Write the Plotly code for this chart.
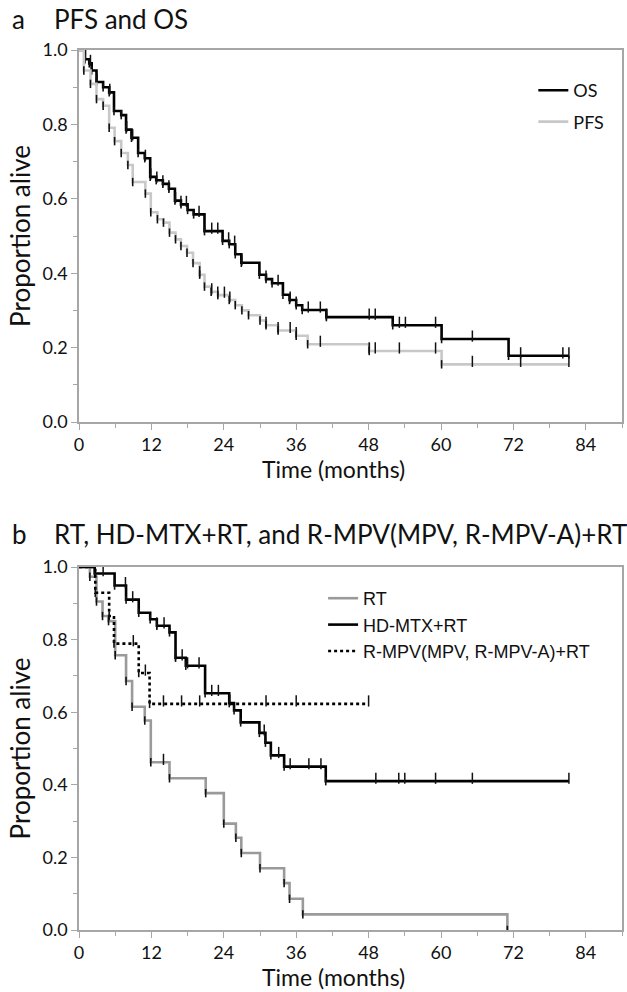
import numpy as np
import plotly.graph_objects as go

# ---------------- data ----------------
# Panel a : overall survival (OS) and progression-free survival (PFS)
os_t = [1.0, 1.7, 2.1, 2.9, 4.0, 5.0, 5.8, 7.0, 7.8, 8.7, 9.8, 10.9, 11.8, 12.8, 13.9,
        14.9, 15.9, 16.9, 18.0, 19.0, 20.8, 23.8, 24.9, 25.9, 26.9, 29.9, 31.0, 32.0,
        33.8, 34.9, 36.0, 37.0, 41.0, 52.0, 60.1, 71.2]
os_s = [0.975, 0.964, 0.945, 0.914, 0.900, 0.886, 0.836, 0.825, 0.786, 0.764, 0.723, 0.709,
        0.659, 0.650, 0.640, 0.627, 0.595, 0.585, 0.570, 0.558, 0.513, 0.487, 0.478, 0.451,
        0.428, 0.396, 0.384, 0.373, 0.342, 0.328, 0.314, 0.301, 0.282, 0.260, 0.223, 0.178]
os_end = 81.2
os_cens = [1.9, 3.0, 5.1, 7.9, 8.9, 11.0, 11.9, 12.9, 13.9, 14.9, 16.0, 16.9, 17.8, 19.9,
           22.0, 23.0, 24.8, 25.8, 27.0, 31.0, 33.0, 35.0, 36.0, 38.0, 40.0, 41.0, 48.1,
           49.1, 53.1, 54.1, 59.1, 65.2, 73.2, 80.2, 81.2]

pfs_t = [0.8, 1.9, 2.9, 4.0, 5.0, 5.9, 7.0, 8.1, 8.9, 11.0, 11.9, 13.0, 14.0, 15.0, 16.0,
         16.9, 17.9, 18.9, 20.0, 20.8, 21.9, 23.0, 24.9, 25.9, 27.0, 28.1, 30.0, 31.0,
         33.0, 36.0, 37.9, 48.1, 60.1]
pfs_s = [0.945, 0.909, 0.868, 0.850, 0.791, 0.755, 0.723, 0.691, 0.645, 0.614, 0.564, 0.545,
         0.536, 0.509, 0.491, 0.473, 0.455, 0.427, 0.396, 0.364, 0.350, 0.341, 0.328, 0.314,
         0.300, 0.287, 0.273, 0.260, 0.246, 0.232, 0.209, 0.191, 0.155]
pfs_end = 81.2
pfs_cens = [20.0, 22.0, 23.0, 24.1, 25.0, 31.0, 33.0, 35.0, 36.0, 40.0, 48.1, 49.1, 53.1,
            59.1, 65.2, 73.2, 81.2]

# Panel b : treatment groups
rt_t = [1.8, 2.9, 3.9, 4.9, 6.0, 7.8, 8.8, 10.9, 11.9, 15.0, 21.0, 24.0, 26.0, 26.9, 30.0,
        34.0, 34.9, 37.1, 71.0]
rt_s = [0.973, 0.905, 0.865, 0.851, 0.757, 0.686, 0.615, 0.577, 0.462, 0.418, 0.377, 0.293,
        0.254, 0.212, 0.170, 0.129, 0.086, 0.043, 0.0]
rt_end = 71.0
rt_cens = [14.0]

hd_t = [2.6, 5.9, 7.8, 9.9, 11.8, 12.9, 15.0, 16.0, 17.7, 20.9, 24.9, 25.7, 26.8, 29.9,
        30.9, 31.8, 34.0, 40.9]
hd_s = [0.982, 0.949, 0.910, 0.874, 0.856, 0.838, 0.820, 0.750, 0.728, 0.652, 0.625, 0.605,
        0.572, 0.543, 0.516, 0.481, 0.450, 0.410]
hd_end = 81.2
hd_cens = [4.0, 7.7, 8.9, 12.9, 14.1, 16.0, 17.1, 18.0, 19.9, 22.0, 23.1, 25.0, 30.7, 33.1,
           35.0, 38.1, 40.1, 49.2, 53.0, 54.0, 59.1, 65.2, 81.2]

rmpv_t = [2.7, 5.0, 5.8, 9.9, 11.7]
rmpv_s = [0.929, 0.865, 0.789, 0.708, 0.623]
rmpv_end = 48.0
rmpv_cens = [9.0, 11.0, 14.0, 17.0, 20.0, 31.0, 36.0, 48.0]

x_ticks = [0, 12, 24, 36, 48, 60, 72, 84]
y_ticks = [0.0, 0.2, 0.4, 0.6, 0.8, 1.0]

panel_a_title = ("a", "PFS and OS")
panel_b_title = ("b", "RT, HD-MTX+RT, and R-MPV(MPV, R-MPV-A)+RT")
x_title = "Time (months)"
y_title = "Proportion alive"

# ---------------- layout helpers ----------------
W, H = 627, 992
ML, MR = 79, 3
A_TOP, A_BOT = 50, 422
B_TOP, B_BOT = 567, 930
MT, MB = A_TOP, H - B_BOT


def pxx(px):
    return (px - ML) / (W - ML - MR)


def pxy(py):
    return (H - MB - py) / (H - MT - MB)


def step_xy(times, surv, end):
    x = [0.0] + list(times) + [end]
    y = [1.0] + list(surv) + [surv[-1]]
    return x, y


def surv_at(times, surv, t):
    idx = np.searchsorted(np.asarray(times), np.asarray(t), side="right")
    s = np.concatenate([[1.0], np.asarray(surv)])
    return s[idx]


fig = go.Figure()


def add_curve(name, times, surv, end, cens, color, dash, xa, ya, legend, group):
    x, y = step_xy(times, surv, end)
    fig.add_trace(go.Scatter(
        x=x, y=y, mode="lines", line=dict(shape="hv", color=color, width=2.6, dash=dash),
        name=name, xaxis=xa, yaxis=ya, legend=legend, legendgroup=group, hoverinfo="skip"))
    # dark marks at each step corner (as drawn in the reference)
    fig.add_trace(go.Scatter(
        x=list(times), y=list(surv), mode="markers",
        marker=dict(symbol="line-ns", size=6, line=dict(width=1.6, color="#111")),
        xaxis=xa, yaxis=ya, showlegend=False, legend=legend, legendgroup=group,
        hoverinfo="skip"))
    # censor ticks
    cy = surv_at(times, surv, cens)
    fig.add_trace(go.Scatter(
        x=list(cens), y=list(cy + 0.008), mode="markers",
        marker=dict(symbol="line-ns", size=8, line=dict(width=1.5, color="#111")),
        xaxis=xa, yaxis=ya, showlegend=False, legend=legend, legendgroup=group,
        hoverinfo="skip"))


add_curve("OS", os_t, os_s, os_end, os_cens, "#000000", "solid", "x", "y", "legend", "os")
add_curve("PFS", pfs_t, pfs_s, pfs_end, pfs_cens, "#c8c8c8", "solid", "x", "y", "legend", "pfs")

add_curve("RT", rt_t, rt_s, rt_end, rt_cens, "#9a9a9a", "solid", "x2", "y2", "legend2", "rt")
add_curve("HD-MTX+RT", hd_t, hd_s, hd_end, hd_cens, "#000000", "solid", "x2", "y2", "legend2", "hd")
add_curve("R-MPV(MPV, R-MPV-A)+RT", rmpv_t, rmpv_s, rmpv_end, rmpv_cens, "#000000", "dot",
          "x2", "y2", "legend2", "rmpv")

AX = "#a6a6a6"
FAM = "Lato, Open Sans, sans-serif"
TICKF = dict(family=FAM, size=18, color="#111")
TITLEF = dict(family=FAM, size=23, color="#111")

xcommon = dict(range=[0, 90], tickvals=x_ticks, ticks="outside", ticklen=6, tickwidth=1.3,
               tickcolor=AX, showline=True, linecolor=AX, linewidth=1.5, mirror=True,
               showgrid=False, zeroline=False, tickfont=TICKF,
               minor=dict(dtick=6, ticks="outside", ticklen=4, tickcolor=AX, tickwidth=1.2))
ycommon = dict(range=[0, 1], tickvals=y_ticks, tickformat=".1f", ticks="outside", ticklen=6,
               tickwidth=1.3, tickcolor=AX, showline=True, linecolor=AX, linewidth=1.5,
               mirror=True, showgrid=False, zeroline=False, tickfont=TICKF,
               minor=dict(dtick=0.1, ticks="outside", ticklen=4, tickcolor=AX, tickwidth=1.2),
               title=dict(text=y_title, font=dict(family=FAM, size=26, color="#111"), standoff=4))

fig.update_layout(
    width=W, height=H, margin=dict(l=ML, r=MR, t=MT, b=MB, pad=0),
    paper_bgcolor="white", plot_bgcolor="white",
    xaxis=dict(domain=[0, 1], anchor="y", **xcommon),
    yaxis=dict(domain=[pxy(A_BOT), pxy(A_TOP)], anchor="x", **ycommon),
    xaxis2=dict(domain=[0, 1], anchor="y2", **xcommon),
    yaxis2=dict(domain=[pxy(B_BOT), pxy(B_TOP)], anchor="x2", **ycommon),
    legend=dict(x=pxx(535), y=pxy(72), xanchor="left", yanchor="top",
                bgcolor="rgba(0,0,0,0)", tracegroupgap=5,
                font=dict(family="Lato, sans-serif", size=18, color="#111")),
    legend2=dict(x=pxx(324), y=pxy(580), xanchor="left", yanchor="top",
                 bgcolor="rgba(0,0,0,0)", tracegroupgap=0,
                 font=dict(family="Liberation Sans, Arial, sans-serif", size=18, color="#111")),
    showlegend=True,
)

TF = dict(family=FAM, size=26, color="#111")
for (letter, text), ypx in ((panel_a_title, 19), (panel_b_title, 534)):
    fig.add_annotation(text=letter, x=pxx(10), y=pxy(ypx), xref="paper", yref="paper",
                       xanchor="left", yanchor="middle", showarrow=False, font=TF)
    fig.add_annotation(text=text, x=pxx(52), y=pxy(ypx), xref="paper", yref="paper",
                       xanchor="left", yanchor="middle", showarrow=False, font=TF)

# x-axis titles placed as text just below each axis
for bot in (A_BOT, B_BOT):
    fig.add_annotation(text=x_title, x=pxx(334), y=pxy(bot + 47), xref="paper", yref="paper",
                       xanchor="center", yanchor="middle", showarrow=False, font=TITLEF)

fig.write_html("out.html")
